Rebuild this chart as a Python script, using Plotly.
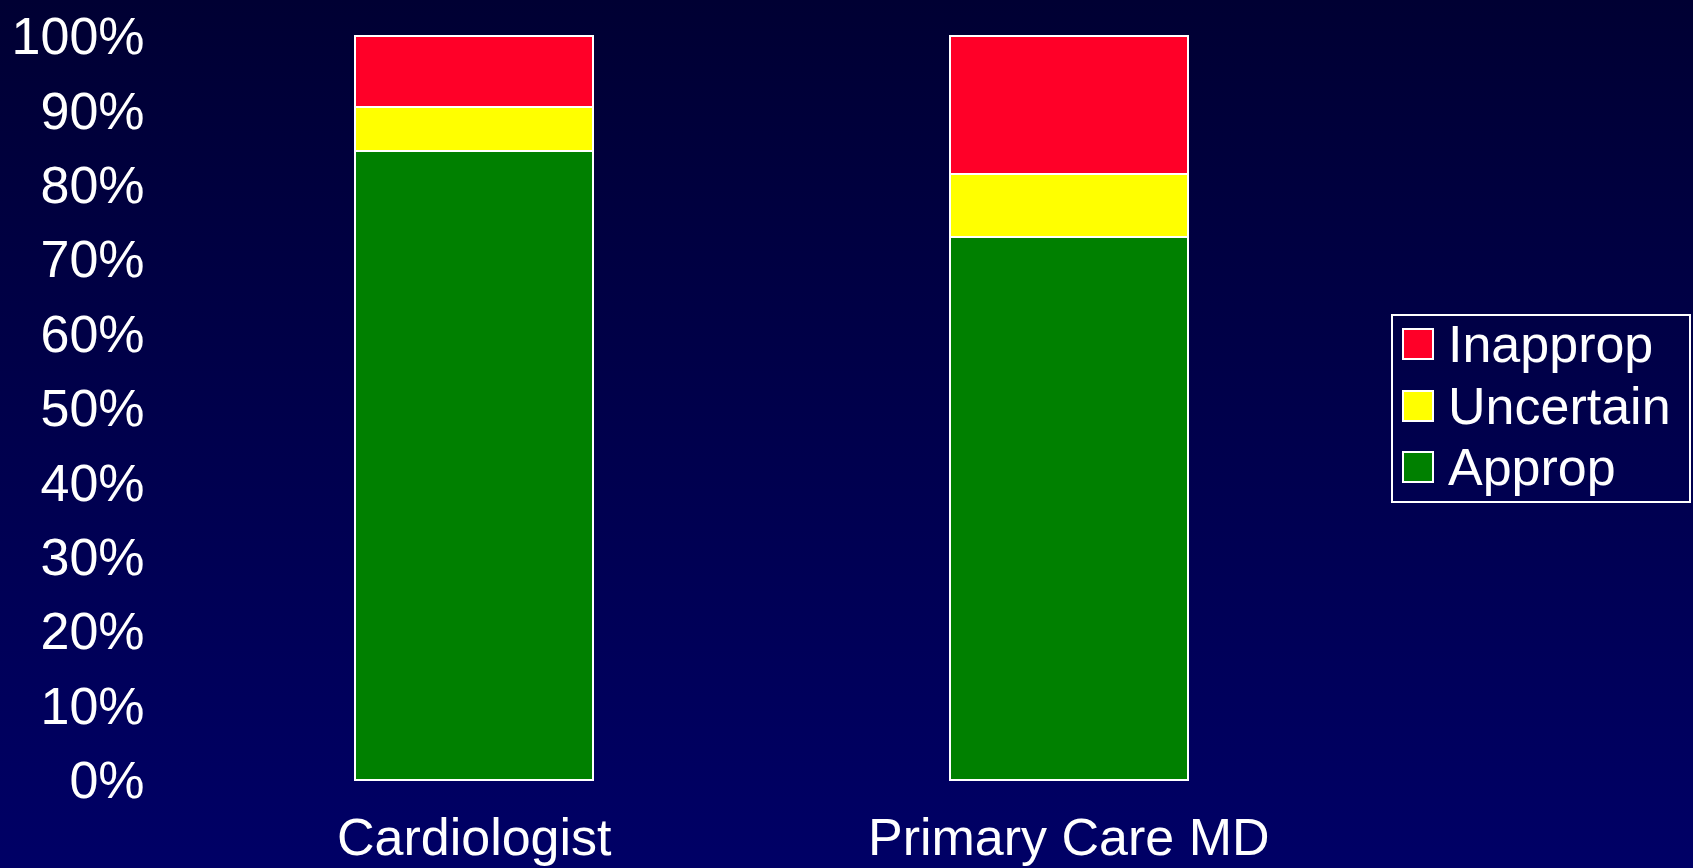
import base64
import plotly.graph_objects as go

# Share of cases rated by appropriateness, per ordering physician type (%)
categories = ["Cardiologist", "Primary Care MD"]
approp = [84.5, 73.0]
uncertain = [6.0, 8.5]
inapprop = [9.5, 18.5]

series_names = ["Approp", "Uncertain", "Inapprop"]
series_values = [approp, uncertain, inapprop]
series_colors = ["#008000", "#FFFF00", "#FF0028"]

y_ticks = list(range(0, 101, 10))

W, H = 1693, 868
ML, MR, MT, MB = 177, 327, 33, 85
PW, PH = W - ML - MR, H - MT - MB

FONT = "Liberation Sans, Arial, Helvetica, sans-serif"
FS = 52


def px_x(p):
    return (p - ML) / PW


def px_y(p):
    return (H - MB - p) / PH


fig = go.Figure()
for name, vals, col in zip(series_names, series_values, series_colors):
    fig.add_trace(go.Bar(
        x=categories, y=vals, name=name, width=0.4,
        marker=dict(color=col, line=dict(color="white", width=2)),
        showlegend=False,
    ))

# Vertical navy gradient behind the whole figure
svg = (
    f'<svg xmlns="http://www.w3.org/2000/svg" width="{W}" height="{H}" '
    f'preserveAspectRatio="none">'
    '<defs><linearGradient id="g" x1="0" y1="0" x2="0" y2="1">'
    '<stop offset="0" stop-color="#000033"/>'
    '<stop offset="1" stop-color="#000066"/>'
    '</linearGradient></defs>'
    f'<rect width="{W}" height="{H}" fill="url(#g)"/></svg>'
)
bg_uri = "data:image/svg+xml;base64," + base64.b64encode(svg.encode()).decode()

shapes = []
annotations = []

# Legend box (top entry = top segment of the stack)
lx0, lx1, ly0, ly1 = 1392, 1690, 315, 502
shapes.append(dict(type="rect", xref="paper", yref="paper",
                   x0=px_x(lx0), x1=px_x(lx1), y0=px_y(ly1), y1=px_y(ly0),
                   line=dict(color="white", width=2), fillcolor="rgba(0,0,0,0)"))
row_centers = [344, 406, 467]
for i, (name, col) in enumerate(zip(series_names[::-1], series_colors[::-1])):
    cy = row_centers[i]
    shapes.append(dict(type="rect", xref="paper", yref="paper",
                       x0=px_x(1403), x1=px_x(1433), y0=px_y(cy + 15), y1=px_y(cy - 15),
                       line=dict(color="white", width=2), fillcolor=col))
    annotations.append(dict(xref="paper", yref="paper", x=px_x(1446), y=px_y(cy),
                            xanchor="left", yanchor="middle", showarrow=False,
                            text=name, font=dict(family=FONT, size=FS, color="white")))

fig.update_layout(
    width=W, height=H,
    margin=dict(l=ML, r=MR, t=MT, b=MB, pad=0),
    barmode="stack",
    paper_bgcolor="#000044",
    plot_bgcolor="rgba(0,0,0,0)",
    font=dict(family=FONT, size=FS, color="white"),
    showlegend=False,
    images=[dict(source=bg_uri, xref="paper", yref="paper",
                 x=px_x(0), y=px_y(0), sizex=W / PW, sizey=H / PH,
                 xanchor="left", yanchor="top", sizing="stretch", layer="below")],
    shapes=shapes,
    annotations=annotations,
    xaxis=dict(range=[-0.5, 1.5], showgrid=False, zeroline=False, showline=False,
               automargin=False,
               ticks="outside", ticklen=9, tickcolor="rgba(0,0,0,0)",
               tickfont=dict(family=FONT, size=FS, color="white")),
    yaxis=dict(range=[-0.4, 100.4], tickvals=y_ticks, ticktext=[f"{v}%" for v in y_ticks],
               showgrid=False, zeroline=False, showline=False,
               automargin=False,
               ticks="outside", ticklen=21, tickcolor="rgba(0,0,0,0)",
               tickfont=dict(family=FONT, size=FS, color="white")),
)

fig.write_html("out.html")
